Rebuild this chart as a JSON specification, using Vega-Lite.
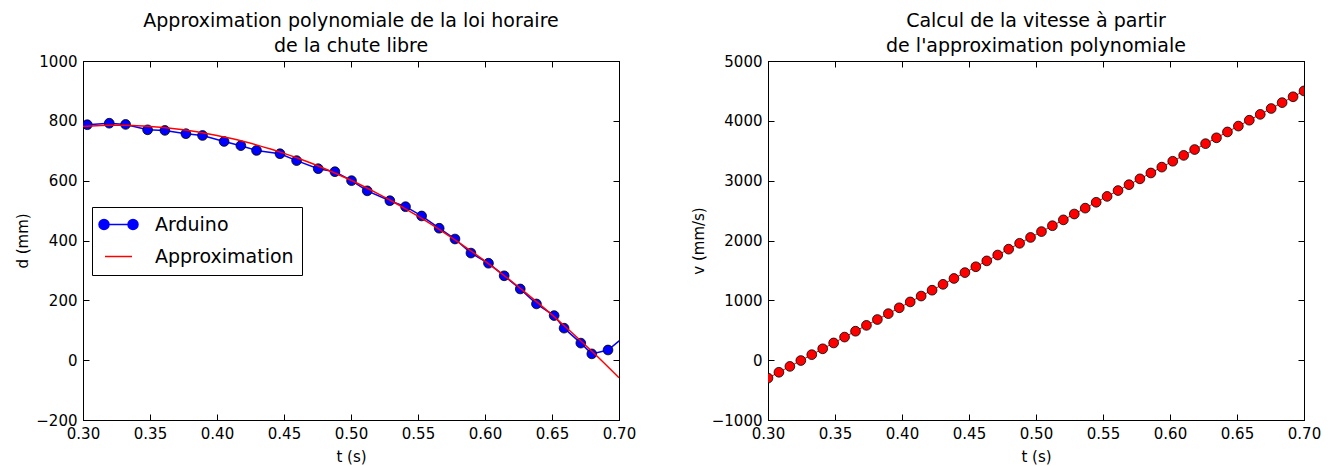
{
  "$schema": "https://vega.github.io/schema/vega-lite/v6.json",
  "padding": {"left": 15, "top": 11, "right": 5, "bottom": 2},
  "background": "white",
  "spacing": 53,
  "datasets": {
    "arduino": [
      {"t": 0.3032, "d": 787, "series": "Arduino"},
      {"t": 0.3196, "d": 792, "series": "Arduino"},
      {"t": 0.3318, "d": 788, "series": "Arduino"},
      {"t": 0.3482, "d": 770, "series": "Arduino"},
      {"t": 0.3611, "d": 768, "series": "Arduino"},
      {"t": 0.3768, "d": 757, "series": "Arduino"},
      {"t": 0.3892, "d": 751, "series": "Arduino"},
      {"t": 0.4053, "d": 731, "series": "Arduino"},
      {"t": 0.4178, "d": 717, "series": "Arduino"},
      {"t": 0.4295, "d": 701, "series": "Arduino"},
      {"t": 0.4470, "d": 690, "series": "Arduino"},
      {"t": 0.4594, "d": 667, "series": "Arduino"},
      {"t": 0.4755, "d": 640, "series": "Arduino"},
      {"t": 0.4880, "d": 630, "series": "Arduino"},
      {"t": 0.5004, "d": 600, "series": "Arduino"},
      {"t": 0.5121, "d": 566, "series": "Arduino"},
      {"t": 0.5290, "d": 533, "series": "Arduino"},
      {"t": 0.5407, "d": 513, "series": "Arduino"},
      {"t": 0.5527, "d": 482, "series": "Arduino"},
      {"t": 0.5658, "d": 441, "series": "Arduino"},
      {"t": 0.5776, "d": 405, "series": "Arduino"},
      {"t": 0.5895, "d": 358, "series": "Arduino"},
      {"t": 0.6026, "d": 324, "series": "Arduino"},
      {"t": 0.6143, "d": 282, "series": "Arduino"},
      {"t": 0.6263, "d": 238, "series": "Arduino"},
      {"t": 0.6384, "d": 188, "series": "Arduino"},
      {"t": 0.6516, "d": 149, "series": "Arduino"},
      {"t": 0.6590, "d": 107, "series": "Arduino"},
      {"t": 0.6715, "d": 57, "series": "Arduino"},
      {"t": 0.6797, "d": 21, "series": "Arduino"},
      {"t": 0.6918, "d": 34, "series": "Arduino"},
      {"t": 0.7040, "d": 79, "series": "Arduino"}
    ],
    "approx": [
      {"t": 0.30, "d": 781.25, "series": "Approximation"},
      {"t": 0.31, "d": 783.65, "series": "Approximation"},
      {"t": 0.32, "d": 784.85, "series": "Approximation"},
      {"t": 0.33, "d": 784.85, "series": "Approximation"},
      {"t": 0.34, "d": 783.65, "series": "Approximation"},
      {"t": 0.35, "d": 781.25, "series": "Approximation"},
      {"t": 0.36, "d": 777.65, "series": "Approximation"},
      {"t": 0.37, "d": 772.85, "series": "Approximation"},
      {"t": 0.38, "d": 766.85, "series": "Approximation"},
      {"t": 0.39, "d": 759.65, "series": "Approximation"},
      {"t": 0.40, "d": 751.25, "series": "Approximation"},
      {"t": 0.41, "d": 741.65, "series": "Approximation"},
      {"t": 0.42, "d": 730.85, "series": "Approximation"},
      {"t": 0.43, "d": 718.85, "series": "Approximation"},
      {"t": 0.44, "d": 705.65, "series": "Approximation"},
      {"t": 0.45, "d": 691.25, "series": "Approximation"},
      {"t": 0.46, "d": 675.65, "series": "Approximation"},
      {"t": 0.47, "d": 658.85, "series": "Approximation"},
      {"t": 0.48, "d": 640.85, "series": "Approximation"},
      {"t": 0.49, "d": 621.65, "series": "Approximation"},
      {"t": 0.50, "d": 601.25, "series": "Approximation"},
      {"t": 0.51, "d": 579.65, "series": "Approximation"},
      {"t": 0.52, "d": 556.85, "series": "Approximation"},
      {"t": 0.53, "d": 532.85, "series": "Approximation"},
      {"t": 0.54, "d": 507.65, "series": "Approximation"},
      {"t": 0.55, "d": 481.25, "series": "Approximation"},
      {"t": 0.56, "d": 453.65, "series": "Approximation"},
      {"t": 0.57, "d": 424.85, "series": "Approximation"},
      {"t": 0.58, "d": 394.85, "series": "Approximation"},
      {"t": 0.59, "d": 363.65, "series": "Approximation"},
      {"t": 0.60, "d": 331.25, "series": "Approximation"},
      {"t": 0.61, "d": 297.65, "series": "Approximation"},
      {"t": 0.62, "d": 262.85, "series": "Approximation"},
      {"t": 0.63, "d": 226.85, "series": "Approximation"},
      {"t": 0.64, "d": 189.65, "series": "Approximation"},
      {"t": 0.65, "d": 151.25, "series": "Approximation"},
      {"t": 0.66, "d": 111.65, "series": "Approximation"},
      {"t": 0.67, "d": 70.85, "series": "Approximation"},
      {"t": 0.68, "d": 28.85, "series": "Approximation"},
      {"t": 0.69, "d": -14.35, "series": "Approximation"},
      {"t": 0.70, "d": -58.75, "series": "Approximation"}
    ],
    "vitesse": [
      {"t": 0.30000, "v": -300.00}, {"t": 0.30816, "v": -202.04}, {"t": 0.31633, "v": -104.08},
      {"t": 0.32449, "v": -6.12}, {"t": 0.33265, "v": 91.84}, {"t": 0.34082, "v": 189.80},
      {"t": 0.34898, "v": 287.76}, {"t": 0.35714, "v": 385.71}, {"t": 0.36531, "v": 483.67},
      {"t": 0.37347, "v": 581.63}, {"t": 0.38163, "v": 679.59}, {"t": 0.38980, "v": 777.55},
      {"t": 0.39796, "v": 875.51}, {"t": 0.40612, "v": 973.47}, {"t": 0.41429, "v": 1071.43},
      {"t": 0.42245, "v": 1169.39}, {"t": 0.43061, "v": 1267.35}, {"t": 0.43878, "v": 1365.31},
      {"t": 0.44694, "v": 1463.27}, {"t": 0.45510, "v": 1561.22}, {"t": 0.46327, "v": 1659.18},
      {"t": 0.47143, "v": 1757.14}, {"t": 0.47959, "v": 1855.10}, {"t": 0.48776, "v": 1953.06},
      {"t": 0.49592, "v": 2051.02}, {"t": 0.50408, "v": 2148.98}, {"t": 0.51224, "v": 2246.94},
      {"t": 0.52041, "v": 2344.90}, {"t": 0.52857, "v": 2442.86}, {"t": 0.53673, "v": 2540.82},
      {"t": 0.54490, "v": 2638.78}, {"t": 0.55306, "v": 2736.73}, {"t": 0.56122, "v": 2834.69},
      {"t": 0.56939, "v": 2932.65}, {"t": 0.57755, "v": 3030.61}, {"t": 0.58571, "v": 3128.57},
      {"t": 0.59388, "v": 3226.53}, {"t": 0.60204, "v": 3324.49}, {"t": 0.61020, "v": 3422.45},
      {"t": 0.61837, "v": 3520.41}, {"t": 0.62653, "v": 3618.37}, {"t": 0.63469, "v": 3716.33},
      {"t": 0.64286, "v": 3814.29}, {"t": 0.65102, "v": 3912.24}, {"t": 0.65918, "v": 4010.20},
      {"t": 0.66735, "v": 4108.16}, {"t": 0.67551, "v": 4206.12}, {"t": 0.68367, "v": 4304.08},
      {"t": 0.69184, "v": 4402.04}, {"t": 0.70000, "v": 4500.00}
    ]
  },
  "hconcat": [
    {
      "width": 536,
      "height": 359,
      "title": {"text": ["Approximation polynomiale de la loi horaire", "de la chute libre"], "frame": "group", "anchor": "middle", "fontSize": 19, "fontWeight": "normal", "lineHeight": 25, "offset": -2, "color": "black"},
      "resolve": {"axis": {"x": "independent", "y": "independent"}},
      "layer": [
        {
          "data": {"name": "approx"},
          "mark": {"type": "point", "opacity": 0, "clip": true},
          "encoding": {
            "x": {"field": "t", "type": "quantitative", "scale": {"domain": [0.3, 0.7], "nice": false, "zero": false}, "axis": {"orient": "top", "labels": false, "title": null, "values": [0.3, 0.35, 0.4, 0.45, 0.5, 0.55, 0.6, 0.65, 0.7]}},
            "y": {"field": "d", "type": "quantitative", "scale": {"domain": [-200, 1000], "nice": false, "zero": false}, "axis": {"orient": "right", "labels": false, "title": null, "values": [-200, 0, 200, 400, 600, 800, 1000]}}
          }
        },
        {
          "data": {"name": "arduino"},
          "mark": {"type": "line", "strokeWidth": 1.5, "clip": true},
          "encoding": {
            "x": {"field": "t", "type": "quantitative", "title": "t (s)", "axis": {"orient": "bottom", "values": [0.3, 0.35, 0.4, 0.45, 0.5, 0.55, 0.6, 0.65, 0.7], "format": ".2f", "titlePadding": 8}},
            "y": {"field": "d", "type": "quantitative", "title": "d (mm)", "axis": {"orient": "left", "values": [-200, 0, 200, 400, 600, 800, 1000], "format": "d"}},
            "color": {
              "field": "series", "type": "nominal",
              "scale": {"domain": ["Arduino", "Approximation"], "range": ["#0000ff", "#ff0000"]},
              "legend": {
                "orient": "none", "legendX": 9, "legendY": 146, "title": null,
                "strokeColor": "black", "fillColor": "white", "padding": 8, "cornerRadius": 0,
                "labelFontSize": 19, "labelColor": "black", "labelFont": "DejaVu Sans",
                "symbolSize": 100, "symbolOffset": 9, "labelOffset": 27, "rowPadding": 12,
                "symbolStrokeWidth": 1.5,
                "encode": {
                  "symbols": {
                    "update": {
                      "shape": {"signal": "datum.value === 'Arduino' ? 'M-2.9,0L2.9,0M-1.9,0A1,1,0,1,1,-3.9,0A1,1,0,1,1,-1.9,0ZM3.9,0A1,1,0,1,1,1.9,0A1,1,0,1,1,3.9,0Z' : 'M-2.7,0L2.7,0'"},
                      "fill": {"signal": "datum.value === 'Arduino' ? '#0000ff' : 'transparent'"}
                    }
                  }
                }
              }
            }
          }
        },
        {
          "data": {"name": "arduino"},
          "mark": {"type": "point", "filled": true, "size": 95, "fill": "#0000ff", "stroke": "#000000", "strokeWidth": 0.8, "opacity": 1, "clip": true},
          "encoding": {
            "x": {"field": "t", "type": "quantitative", "axis": null},
            "y": {"field": "d", "type": "quantitative", "axis": null}
          }
        },
        {
          "data": {"name": "approx"},
          "mark": {"type": "line", "strokeWidth": 1.5, "clip": true, "interpolate": "monotone"},
          "encoding": {
            "x": {"field": "t", "type": "quantitative", "axis": null},
            "y": {"field": "d", "type": "quantitative", "axis": null},
            "color": {"field": "series", "type": "nominal"}
          }
        }
      ]
    },
    {
      "width": 536,
      "height": 359,
      "title": {"text": ["Calcul de la vitesse à partir", "de l'approximation polynomiale"], "frame": "group", "anchor": "middle", "fontSize": 19, "fontWeight": "normal", "lineHeight": 25, "offset": -2, "color": "black"},
      "data": {"name": "vitesse"},
      "resolve": {"axis": {"x": "independent", "y": "independent"}},
      "layer": [
        {
          "mark": {"type": "point", "opacity": 0, "clip": true},
          "encoding": {
            "x": {"field": "t", "type": "quantitative", "scale": {"domain": [0.3, 0.7], "nice": false, "zero": false}, "axis": {"orient": "top", "labels": false, "title": null, "values": [0.3, 0.35, 0.4, 0.45, 0.5, 0.55, 0.6, 0.65, 0.7]}},
            "y": {"field": "v", "type": "quantitative", "scale": {"domain": [-1000, 5000], "nice": false, "zero": false}, "axis": {"orient": "right", "labels": false, "title": null, "values": [-1000, 0, 1000, 2000, 3000, 4000, 5000]}}
          }
        },
        {
          "mark": {"type": "line", "color": "#ff0000", "strokeWidth": 1, "clip": true},
          "encoding": {
            "x": {"field": "t", "type": "quantitative", "title": "t (s)", "axis": {"orient": "bottom", "values": [0.3, 0.35, 0.4, 0.45, 0.5, 0.55, 0.6, 0.65, 0.7], "format": ".2f", "titlePadding": 8}},
            "y": {"field": "v", "type": "quantitative", "title": "v (mm/s)", "axis": {"orient": "left", "values": [-1000, 0, 1000, 2000, 3000, 4000, 5000], "format": "d"}}
          }
        },
        {
          "mark": {"type": "point", "filled": true, "size": 95, "fill": "#ff0000", "stroke": "#000000", "strokeWidth": 0.8, "opacity": 1, "clip": true},
          "encoding": {
            "x": {"field": "t", "type": "quantitative", "axis": null},
            "y": {"field": "v", "type": "quantitative", "axis": null}
          }
        }
      ]
    }
  ],
  "config": {
    "font": "DejaVu Sans",
    "view": {"stroke": "black", "strokeWidth": 1},
    "title": {"font": "DejaVu Sans"},
    "axis": {
      "grid": false,
      "domain": true,
      "domainColor": "black",
      "tickColor": "black",
      "tickSize": -6,
      "labelPadding": 12,
      "labelFontSize": 15,
      "labelColor": "black",
      "labelFont": "DejaVu Sans",
      "titleFontSize": 15,
      "titleFontWeight": "normal",
      "titleColor": "black",
      "titleFont": "DejaVu Sans",
      "titlePadding": 5,
      "labelFlush": false,
      "labelOverlap": false
    }
  }
}
